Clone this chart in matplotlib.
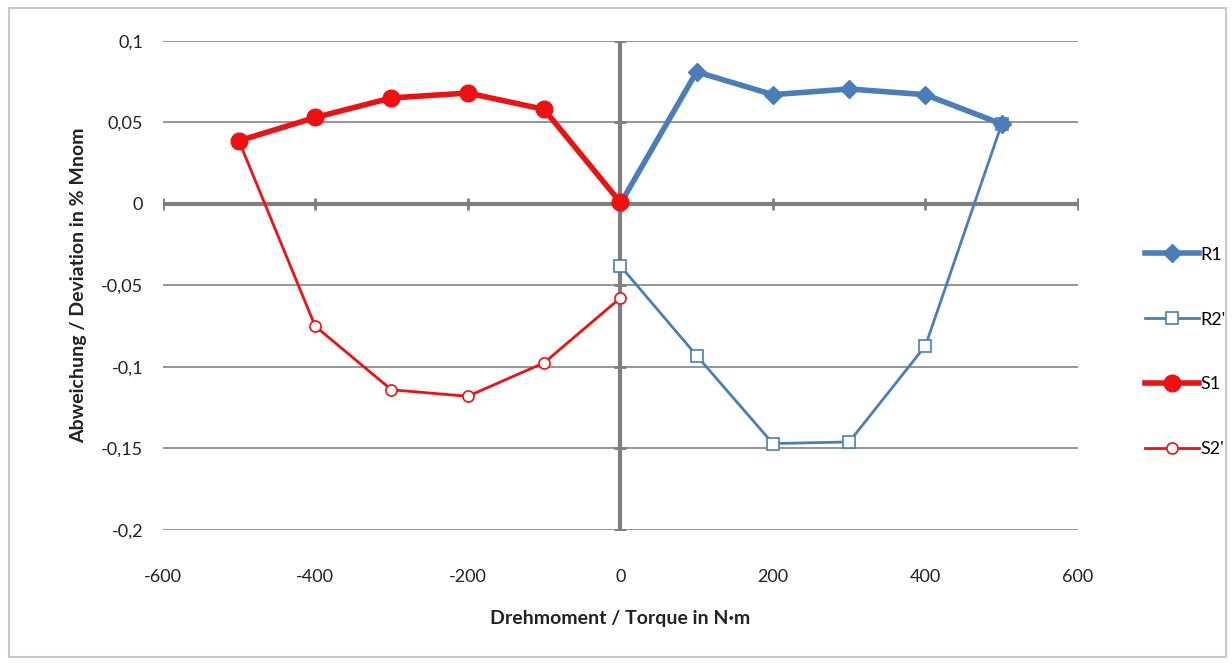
import numpy as np
import matplotlib.pyplot as plt
from matplotlib.patches import Rectangle

plt.rcParams['font.family'] = ['Lato', 'DejaVu Sans']
plt.rcParams['axes.unicode_minus'] = False

# data
torque_pos = [0, 100, 200, 300, 400, 500]
torque_neg = [-500, -400, -300, -200, -100, 0]
r1 = [0.0, 0.081, 0.067, 0.0705, 0.067, 0.049]
r2 = [-0.038, -0.093, -0.147, -0.146, -0.087, 0.049]
s1 = [0.0387, 0.053, 0.065, 0.068, 0.058, 0.001]
s2 = [0.0387, -0.075, -0.114, -0.118, -0.0975, -0.0577]

x_ticks = [-600, -400, -200, 0, 200, 400, 600]
y_ticks = [-0.2, -0.15, -0.1, -0.05, 0, 0.05, 0.1]
y_labels = ["-0,2", "-0,15", "-0,1", "-0,05", "0", "0,05", "0,1"]

blue = "#4a7ebb"
red = "#ee1111"

fig = plt.figure(figsize=(12.32, 6.7), dpi=100)
fig.patches.append(Rectangle((0.007, 0.02), 0.988, 0.968, transform=fig.transFigure,
                             fill=False, edgecolor="#c8c8c8", linewidth=1.5))
ax = fig.add_axes([0.132, 0.209, 0.743, 0.730])

# grid and zero axes
for y in y_ticks:
    ax.axhline(y, color="#8c8c8c", linewidth=1.3, zorder=1)
ax.axhline(0, color="#7f7f7f", linewidth=3, zorder=2)
ax.axvline(0, color="#7f7f7f", linewidth=3, zorder=2)
# small tick marks on the zero axes
ax.plot(x_ticks, [0] * len(x_ticks), linestyle="none", marker="|", markersize=8,
        color="#7f7f7f", markeredgewidth=2, zorder=2)
ax.plot([0] * len(y_ticks), y_ticks, linestyle="none", marker="_", markersize=8,
        color="#7f7f7f", markeredgewidth=2, zorder=2)

ax.plot(torque_pos, r1, color=blue, linewidth=4, marker="D", markersize=9, label="R1", zorder=4)
ax.plot(torque_pos, r2, color=blue, linewidth=2, marker="s", markersize=9,
        markerfacecolor="white", markeredgecolor=blue, markeredgewidth=1.2, label="R2'", zorder=3)
ax.plot(torque_neg, s1, color=red, linewidth=4, marker="o", markersize=12, label="S1", zorder=4)
ax.plot(torque_neg, s2, color=red, linewidth=2, marker="o", markersize=8,
        markerfacecolor="white", markeredgecolor=red, markeredgewidth=1.2, label="S2'", zorder=3)

ax.set_xlim(-600, 600)
ax.set_ylim(-0.2, 0.1)
ax.set_xticks(x_ticks)
ax.set_yticks(y_ticks)
ax.set_yticklabels(y_labels)
for s in ax.spines.values():
    s.set_visible(False)
ax.tick_params(length=0, labelsize=13, colors="#222222")
ax.tick_params(axis="x", pad=28)
ax.tick_params(axis="y", pad=14)

ax.set_xlabel("Drehmoment / Torque in N·m", fontsize=14, fontweight="bold", labelpad=18, color="#222222")
ax.set_ylabel("Abweichung / Deviation in % Mnom", fontsize=14, fontweight="bold", labelpad=10, color="#222222")

ax.legend(loc="center left", bbox_to_anchor=(1.055, 0.364), frameon=False, fontsize=13,
          labelspacing=2.7, handlelength=3.0, handletextpad=0.1)

fig.savefig("out.png", dpi=100)
